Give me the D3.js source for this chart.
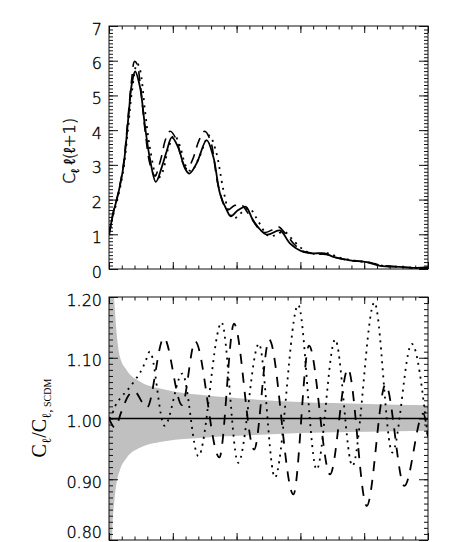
<!DOCTYPE html>
<html><head><meta charset="utf-8">
<script src="https://cdn.jsdelivr.net/npm/d3@7"></script>
<style>body{margin:0;background:#fff} svg{display:block}</style>
</head><body><svg id="c" width="461" height="542"></svg>
<script>
// ---------- data ----------
// Upper panel: C_l l(l+1)
const topSolidL  = [0,13,29,45,61,71,82,97,113,129,147,165,181,197,217,238,252,275,306,327,348,369,382,405,429,452,494,536,567,609,640,677,703,756,808,850,912,965,1000];
const topSolidV  = [0.98,1.6,2.17,2.94,4.39,5.3,5.69,5.25,4.1,3.14,2.51,2.92,3.4,3.79,3.5,2.9,2.75,3.05,3.71,3.23,2.17,1.7,1.52,1.7,1.79,1.4,0.99,1.11,0.74,0.49,0.45,0.45,0.35,0.25,0.2,0.09,0.06,0.03,0.05];
const topDashedL = [0,13,29,45,61,71,80,88,97,113,129,144,162,178,192,210,230,245,262,282,300,318,340,360,372,392,412,440,470,488,510,530,555,580,605,640,680,710,760,810,850,910,960,1000];
const topDashedV = [0.98,1.62,2.2,3.0,4.5,5.45,5.98,5.9,5.4,4.0,3.0,2.68,3.15,3.75,3.97,3.75,3.1,2.88,3.15,3.7,3.97,3.7,2.5,1.85,1.7,1.82,1.87,1.55,1.15,1.05,1.12,1.22,1.0,0.72,0.53,0.45,0.42,0.33,0.24,0.2,0.11,0.06,0.03,0.02];
const topDottedL = [0,13,29,45,61,71,88,97,113,129,152,168,185,205,222,242,258,282,314,335,358,376,392,412,440,460,500,520,548,575,615,650,690,715,765,815,860,915,965,1000];
const topDottedV = [0.98,1.55,2.1,2.85,4.15,5.05,5.92,5.75,4.55,3.45,2.6,2.8,3.45,3.85,3.55,2.95,2.82,3.2,3.85,3.4,2.3,1.65,1.45,1.6,1.75,1.5,0.95,0.97,1.08,0.85,0.52,0.43,0.45,0.35,0.25,0.19,0.09,0.06,0.03,0.03];

// Lower panel: ratio to SCDM
const ratioDottedL = [0,8,19,38,55,80,98,113,128,174,230,280,353,405,470,520,593,651,709,763,832,888,949,1000];
const ratioDottedV = [1.0,1.005,1.02,1.035,1.045,1.062,1.076,1.092,1.11,0.988,1.074,0.938,1.158,0.927,1.123,0.903,1.187,0.916,1.13,0.922,1.191,0.944,1.123,0.966];
const ratioDashedL = [0,19,38,60,78,119,172,229,270,346,392,455,502,578,627,693,749,808,867,926,985,1000];
const ratioDashedV = [1.0,0.985,1.01,1.037,1.045,1.018,1.133,1.022,1.127,0.936,1.156,0.949,1.13,0.875,1.12,0.908,1.082,0.856,1.056,0.889,1.008,0.97];
const referenceV   = [1.0, 1.0];
const referenceL   = [0, 1000];

// cosmic-variance band
const bandL     = [0,6,11,17,24,34,55,97,181,285,389,599,808,1000];
const bandUpper = [1.6,1.3,1.24,1.19,1.14,1.102,1.08,1.061,1.047,1.039,1.034,1.027,1.024,1.022];
const bandLower = [0.55,0.72,0.82,0.865,0.895,0.915,0.935,0.952,0.963,0.968,0.971,0.976,0.978,0.98];

// ticks
const xMajor = [0,200,400,600,800,1000];
const xMinor = d3.range(0,1001,40);
const y1Major = [0,1,2,3,4,5,6,7];
const y1Minor = d3.range(0,70.01,1).map(d=>d/10);
const y2Major = [0.8,0.9,1.0,1.1,1.2];
const y2Minor = d3.range(80,120.01,1).map(d=>d/100);

// ---------- layout ----------
const L = 109, R = 428;
const T1 = 26, B1 = 269, T2 = 297, B2 = 540;
const svg = d3.select('#c');
const x  = d3.scaleLinear().domain([0,1000]).range([L,R]);
const y1 = d3.scaleLinear().domain([0,7]).range([B1,T1]);
const y2 = d3.scaleLinear().domain([0.8,1.2]).range([B2,T2]);
const FONT = "'DejaVu Sans', sans-serif";

const defs = svg.append('defs');
defs.append('clipPath').attr('id','clip1').append('rect').attr('x',L).attr('y',T1).attr('width',R-L).attr('height',B1-T1);
defs.append('clipPath').attr('id','clip2').append('rect').attr('x',L).attr('y',T2).attr('width',R-L).attr('height',B2-T2);

const zip = (a,b)=>a.map((d,i)=>[d,b[i]]);

// ---------- lower panel band ----------
const band = bandL.map((d,i)=>({l:d,u:bandUpper[i],lo:bandLower[i]}));
svg.append('path').attr('clip-path','url(#clip2)')
  .datum(band)
  .attr('fill','#c0c0c0')
  .attr('d', d3.area().x(d=>x(d.l)).y0(d=>y2(d.lo)).y1(d=>y2(d.u)).curve(d3.curveMonotoneX));

// ---------- axes / frames ----------
function styleAxis(g){
  g.select('.domain').remove();
  g.selectAll('.tick line').attr('stroke','#111').attr('stroke-width',1);
  g.selectAll('text').attr('fill','#000').attr('stroke','#000').attr('stroke-width',0.35)
    .style('font-family',FONT).style('font-size','16px').style('font-weight','200');
}
function frame(ys, top, bottom, major, minor, fmt){
  // left (labels)
  svg.append('g').attr('transform',`translate(${L},0)`)
    .call(d3.axisLeft(ys).tickValues(major).tickSize(-9).tickSizeOuter(0).tickPadding(7).tickFormat(fmt))
    .call(styleAxis).call(g=>g.selectAll('text').attr('dy','0.5em'));
  svg.append('g').attr('transform',`translate(${L},0)`)
    .call(d3.axisLeft(ys).tickValues(minor).tickSize(-4).tickSizeOuter(0).tickFormat(''))
    .call(styleAxis);
  // right
  svg.append('g').attr('transform',`translate(${R},0)`)
    .call(d3.axisRight(ys).tickValues(major).tickSize(-9).tickSizeOuter(0).tickFormat(''))
    .call(styleAxis);
  svg.append('g').attr('transform',`translate(${R},0)`)
    .call(d3.axisRight(ys).tickValues(minor).tickSize(-4).tickSizeOuter(0).tickFormat(''))
    .call(styleAxis);
  // top & bottom
  svg.append('g').attr('transform',`translate(0,${top})`)
    .call(d3.axisTop(x).tickValues(xMajor).tickSize(-7).tickSizeOuter(0).tickFormat(''))
    .call(styleAxis);
  svg.append('g').attr('transform',`translate(0,${top})`)
    .call(d3.axisTop(x).tickValues(xMinor).tickSize(-3.5).tickSizeOuter(0).tickFormat(''))
    .call(styleAxis);
  svg.append('g').attr('transform',`translate(0,${bottom})`)
    .call(d3.axisBottom(x).tickValues(xMajor).tickSize(-7).tickSizeOuter(0).tickFormat(''))
    .call(styleAxis);
  svg.append('g').attr('transform',`translate(0,${bottom})`)
    .call(d3.axisBottom(x).tickValues(xMinor).tickSize(-3.5).tickSizeOuter(0).tickFormat(''))
    .call(styleAxis);
  svg.append('rect').attr('x',L).attr('y',top).attr('width',R-L).attr('height',bottom-top)
    .attr('fill','none').attr('stroke','#111').attr('stroke-width',1);
}
frame(y1, T1, B1, y1Major, y1Minor, d3.format('d'));
frame(y2, T2, B2, y2Major, y2Minor, d3.format('.2f'));
// keep the lowest label of the lower panel inside the picture
svg.selectAll('.tick text').filter(d=>d===0.8).attr('dy','-0.14em');

// ---------- curves ----------
function curve(clip, ys, L_, V_, dash, width, crv){
  svg.append('path').attr('clip-path',`url(#${clip})`)
    .datum(zip(L_,V_))
    .attr('fill','none').attr('stroke','#000').attr('stroke-width',width)
    .attr('stroke-dasharray',dash)
    .attr('d', d3.line().x(d=>x(d[0])).y(d=>ys(d[1])).curve(crv));
}
curve('clip1', y1, topSolidL,  topSolidV,  null,  1.8, d3.curveCatmullRom.alpha(0.5));
curve('clip1', y1, topDashedL, topDashedV, '10,7', 1.6, d3.curveCatmullRom.alpha(0.5));
curve('clip1', y1, topDottedL, topDottedV, '2,5', 1.8, d3.curveCatmullRom.alpha(0.5));

curve('clip2', y2, referenceL, referenceV, null, 1.6, d3.curveLinear);
curve('clip2', y2, ratioDashedL, ratioDashedV, '10,9', 1.8, d3.curveMonotoneX);
curve('clip2', y2, ratioDottedL, ratioDottedV, '2,5', 1.8, d3.curveMonotoneX);

// ---------- axis titles ----------
const t1 = svg.append('text').attr('transform','translate(75,151) rotate(-90)')
  .attr('text-anchor','middle').attr('fill','#000').attr('stroke','#000').attr('stroke-width',0.35)
  .style('font-family',FONT).style('font-size','16px').style('font-weight','200');
t1.append('tspan').text('C');
t1.append('tspan').attr('dy',4).style('font-size','11px').text('ℓ');
t1.append('tspan').attr('dy',-4).text(' ℓ(ℓ+1)');

const t2 = svg.append('text').attr('transform','translate(46,418) rotate(-90)')
  .attr('text-anchor','middle').attr('fill','#000')
  .style('font-family',"'Liberation Serif', serif").style('font-size','20px');
t2.append('tspan').text('C');
t2.append('tspan').attr('dy',5).style('font-size','13px').text('ℓ');
t2.append('tspan').attr('dy',-5).text('/C');
t2.append('tspan').attr('dy',5).style('font-size','13px').text('ℓ,');
t2.append('tspan').style('font-size','10px').text(' SCDM');
</script></body></html>
